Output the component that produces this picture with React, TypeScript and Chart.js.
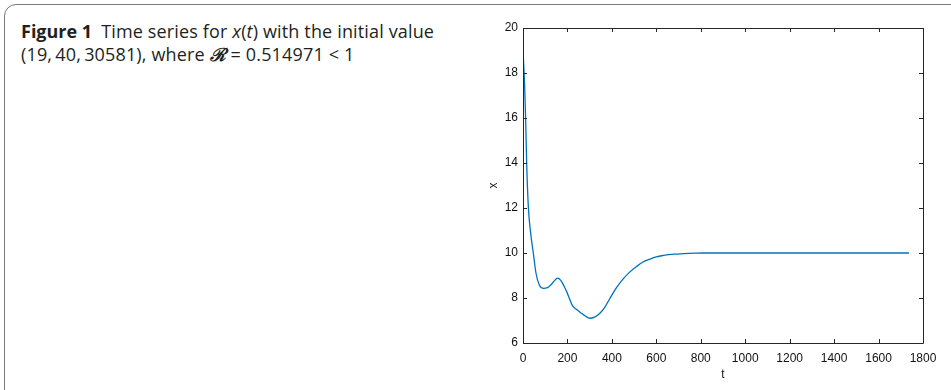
import React, { useEffect, useRef } from "react";
import { Chart, registerables } from "chart.js";

Chart.register(...registerables);

// Time samples and the corresponding x(t) values of the trajectory
const tValues = [
  0, 4, 7.5, 12, 16.5, 24, 34.5, 46.5, 58.5, 73.5,
  92, 110, 125, 140, 155, 170, 185, 198, 212, 224,
  240, 258, 280, 301, 322, 346, 370, 392, 420, 451,
  480, 511, 540, 571, 600, 631, 680, 721, 770, 811,
  900, 1000, 1200, 1400, 1600, 1737,
];
const xValues = [
  19.0, 18.2, 17.4, 15.9, 14.0, 12.06, 10.88, 9.99, 9.1, 8.58,
  8.43, 8.46, 8.58, 8.75, 8.88, 8.78, 8.52, 8.25, 7.9, 7.64,
  7.5, 7.36, 7.2, 7.1, 7.15, 7.32, 7.62, 8.0, 8.45, 8.85,
  9.15, 9.4, 9.6, 9.73, 9.83, 9.89, 9.95, 9.97, 9.99, 10.0,
  10.0, 10.0, 10.0, 10.0, 10.0, 10.0,
];

// Axis ranges and tick spacing
const tAxis = { min: 0, max: 1800, step: 200 };
const xAxis = { min: 6, max: 20, step: 2 };

const TICK_FONT = { family: "'Liberation Sans', Arial, sans-serif", size: 12 };
const AXIS_COLOR = "#262626";

// Draws the closed axes box with inward-pointing tick marks on all four sides
const boxTicksPlugin = {
  id: "boxTicks",
  afterDraw(chart: any) {
    const { ctx, chartArea } = chart;
    const { left, right, top, bottom } = chartArea;
    const sx = chart.scales.x;
    const sy = chart.scales.y;
    const len = 4;
    ctx.save();
    ctx.strokeStyle = AXIS_COLOR;
    ctx.lineWidth = 1;
    ctx.beginPath();
    ctx.rect(left + 0.5, top + 0.5, right - left, bottom - top);
    for (let v = tAxis.min; v <= tAxis.max; v += tAxis.step) {
      const px = Math.round(sx.getPixelForValue(v)) + 0.5;
      ctx.moveTo(px, bottom);
      ctx.lineTo(px, bottom - len);
      ctx.moveTo(px, top);
      ctx.lineTo(px, top + len);
    }
    for (let v = xAxis.min; v <= xAxis.max; v += xAxis.step) {
      const py = Math.round(sy.getPixelForValue(v)) + 0.5;
      ctx.moveTo(left, py);
      ctx.lineTo(left + len, py);
      ctx.moveTo(right, py);
      ctx.lineTo(right - len, py);
    }
    ctx.stroke();
    ctx.restore();
  },
};

const plainNumber = (v: any) => String(v);

function TimeSeriesChart() {
  const canvasRef = useRef<HTMLCanvasElement | null>(null);

  useEffect(() => {
    const canvas = canvasRef.current;
    if (!canvas) return;
    const points = tValues.map((t, i) => ({ x: t, y: xValues[i] }));
    const chart = new Chart(canvas, {
      type: "line",
      data: {
        datasets: [
          {
            data: points,
            borderColor: "#0072BD",
            borderWidth: 1.3,
            pointRadius: 0,
            fill: false,
            cubicInterpolationMode: "monotone",
          },
        ],
      },
      options: {
        responsive: false,
        animation: false,
        devicePixelRatio: 1,
        layout: { padding: { left: 0, top: 28, right: 28, bottom: 0 } },
        plugins: { legend: { display: false }, tooltip: { enabled: false } },
        scales: {
          x: {
            type: "linear",
            min: tAxis.min,
            max: tAxis.max,
            grid: { display: false, drawTicks: false },
            border: { display: false },
            ticks: {
              stepSize: tAxis.step,
              color: "#111",
              font: TICK_FONT,
              padding: 8,
              maxRotation: 0,
              callback: plainNumber,
            },
            title: {
              display: true,
              text: "t",
              color: "#111",
              font: { family: "'Liberation Sans', Arial, sans-serif", size: 12 },
              padding: { top: 0, bottom: 8 },
            },
            afterFit(scale: any) {
              scale.height = 47;
            },
          },
          y: {
            type: "linear",
            min: xAxis.min,
            max: xAxis.max,
            grid: { display: false, drawTicks: false },
            border: { display: false },
            ticks: {
              stepSize: xAxis.step,
              color: "#111",
              font: TICK_FONT,
              padding: 5,
              callback: plainNumber,
            },
            title: {
              display: true,
              text: "x",
              color: "#111",
              font: { family: "'Liberation Sans', Arial, sans-serif", size: 12 },
              padding: { top: 26, bottom: 0 },
            },
            afterFit(scale: any) {
              scale.width = 63;
            },
          },
        },
      },
      plugins: [boxTicksPlugin],
    });
    return () => chart.destroy();
  }, []);

  return (
    <canvas
      ref={canvasRef}
      width={491}
      height={390}
      style={{ position: "absolute", left: 460, top: 0, width: 491, height: 390 }}
    />
  );
}

export default function App() {
  return (
    <div
      style={{
        position: "fixed",
        left: 0,
        top: 0,
        width: 951,
        height: 390,
        background: "#fff",
        overflow: "hidden",
      }}
    >
      <div
        style={{
          position: "absolute",
          left: 4,
          top: 4,
          width: 1000,
          height: 500,
          border: "1.5px solid #7a7a7a",
          borderRadius: 12,
          boxSizing: "border-box",
        }}
      />
      <div
        style={{
          position: "absolute",
          left: 21,
          top: 20,
          width: 440,
          fontFamily: "'Open Sans', sans-serif",
          fontSize: 18,
          lineHeight: "23.4px",
          color: "#231f20",
          whiteSpace: "nowrap",
        }}
      >
        <div>
          <span style={{ fontWeight: 700, marginRight: 9 }}>Figure 1</span>
          <span style={{ letterSpacing: 0.15 }}>
            Time series for <i>x</i>(<i>t</i>) with the initial value
          </span>
        </div>
        <div style={{ letterSpacing: 0.15 }}>
          (19,{"\u2009"}40,{"\u2009"}30581), where{" "}
          <span style={{ fontFamily: "'DejaVu Serif', serif", fontWeight: 700, fontStyle: "italic" }}>ℛ</span>
          {" "}= 0.514971 &lt; 1
        </div>
      </div>
      <TimeSeriesChart />
    </div>
  );
}
